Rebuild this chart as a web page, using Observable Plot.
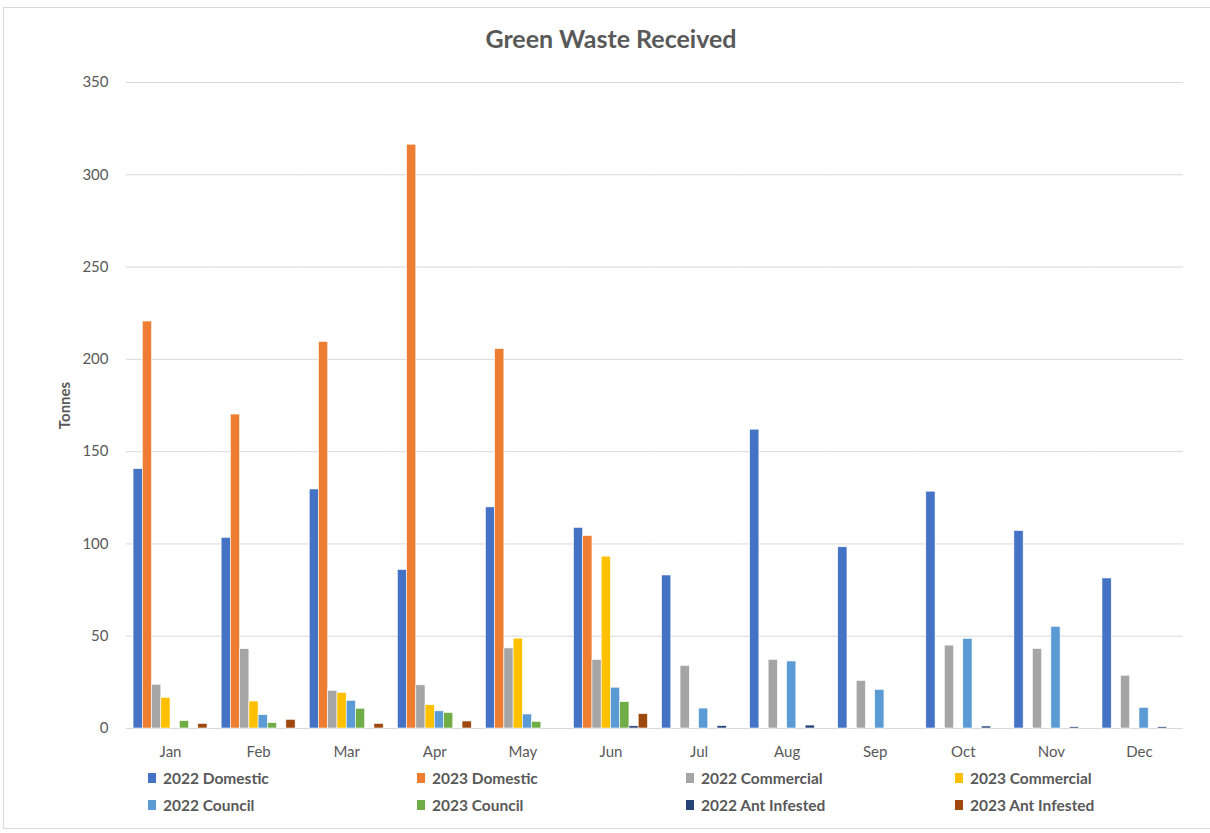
<!DOCTYPE html>
<html>
<head>
<meta charset="utf-8">
<script src="https://cdn.jsdelivr.net/npm/d3@7"></script>
<script src="https://cdn.jsdelivr.net/npm/@observablehq/plot@0.6"></script>
<style>
  body { margin: 0; background: #fff; font-family: Lato, "Open Sans", sans-serif; }
  #wrap { position: relative; width: 1210px; height: 833px; overflow: hidden; }
  #frame { position: absolute; left: 3px; top: 7px; width: 1220px; height: 822px; border: 1px solid #d9d9d9; box-sizing: border-box; }
  #title { position: absolute; left: 0; width: 1222px; top: 23px; text-align: center; font-size: 25px; font-weight: bold; color: #595959; }
  #chart { position: absolute; left: 0; top: 60px; }
  #legend { position: absolute; left: 148px; top: 764px; width: 1080px; display: flex; flex-wrap: wrap; }
  .item { width: 269px; height: 27px; display: flex; align-items: center; font-size: 15.5px; font-weight: bold; color: #595959; }
  .sw { width: 8px; height: 10px; margin-right: 7px; }
  svg text { fill: #595959; }
</style>
</head>
<body>
<div id="wrap">
  <div id="frame"></div>
  <div id="title">Green Waste Received</div>
  <div id="chart"></div>
  <div id="legend"></div>
</div>
<script>
const months = ["Jan","Feb","Mar","Apr","May","Jun","Jul","Aug","Sep","Oct","Nov","Dec"];
const series = ["2022 Domestic","2023 Domestic","2022 Commercial","2023 Commercial","2022 Council","2023 Council","2022 Ant Infested","2023 Ant Infested"];
const colors = ["#4472C4","#ED7D31","#A5A5A5","#FFC000","#5B9BD5","#70AD47","#264478","#9E480E"];
const yTicks = [0,50,100,150,200,250,300,350];

const dom2022 = [140.5, 103.3, 129.5, 85.9, 119.8, 108.7, 82.9, 161.9, 98.2, 128.3, 107.0, 81.3];
const dom2023 = [220.5, 170.1, 209.5, 316.3, 205.6, 104.3, 0, 0, 0, 0, 0, 0];
const com2022 = [23.7, 43.0, 20.4, 23.4, 43.4, 37.1, 33.9, 37.2, 25.8, 44.9, 43.1, 28.6];
const com2023 = [16.6, 14.6, 19.3, 12.6, 48.7, 93.1, 0, 0, 0, 0, 0, 0];
const cou2022 = [0, 7.2, 15.0, 9.3, 7.6, 22.1, 10.8, 36.3, 20.9, 48.6, 55.1, 11.2];
const cou2023 = [4.0, 2.9, 10.7, 8.4, 3.6, 14.3, 0, 0, 0, 0, 0, 0];
const ant2022 = [0, 0, 0, 0, 0, 1.2, 1.3, 1.6, 0, 1.1, 0.7, 0.7];
const ant2023 = [2.5, 4.7, 2.5, 3.8, 0, 7.8, 0, 0, 0, 0, 0, 0];

const valueArrays = [dom2022, dom2023, com2022, com2023, cou2022, cou2023, ant2022, ant2023];
const data = [];
series.forEach((s, i) => months.forEach((m, j) => data.push({month: m, series: s, value: valueArrays[i][j]})));

const chart = Plot.plot({
  width: 1210,
  height: 708,
  marginLeft: 126,
  marginRight: 27,
  marginTop: 22,
  marginBottom: 40,
  style: {fontFamily: "Lato, 'Open Sans', sans-serif", fontSize: "15px", color: "#595959", background: "transparent"},
  fx: {domain: months, padding: 0, round: false, label: null, axis: null},
  x: {domain: series, paddingInner: 0, paddingOuter: 0.764, round: false, axis: null},
  y: {domain: [0, 350], label: null},
  color: {domain: series, range: colors},
  marks: [
    Plot.gridY(yTicks, {stroke: "#d9d9d9", strokeOpacity: 1, strokeWidth: 1}),
    Plot.axisY(yTicks, {tickSize: 0, tickPadding: 18, fontSize: 15, label: "Tonnes", labelArrow: "none", labelAnchor: "center", labelOffset: 67}),
    Plot.axisFx({anchor: "bottom", tickSize: 0, tickPadding: 18, fontSize: 15, label: null}),
    Plot.barY(data.filter(d => d.value > 0), {fx: "month", x: "series", y: "value", fill: "series", stroke: "white", strokeWidth: 0.6})
  ]
});
document.getElementById("chart").appendChild(chart);
d3.select(chart).selectAll('[aria-label="y-axis label"] text')
  .text("Tonnes").style("font-weight", "bold").style("font-size", "15px");

const legend = d3.select("#legend");
series.forEach((s, i) => {
  const it = legend.append("div").attr("class", "item");
  it.append("div").attr("class", "sw").style("background", colors[i]);
  it.append("span").text(s);
});
</script>
</body>
</html>
